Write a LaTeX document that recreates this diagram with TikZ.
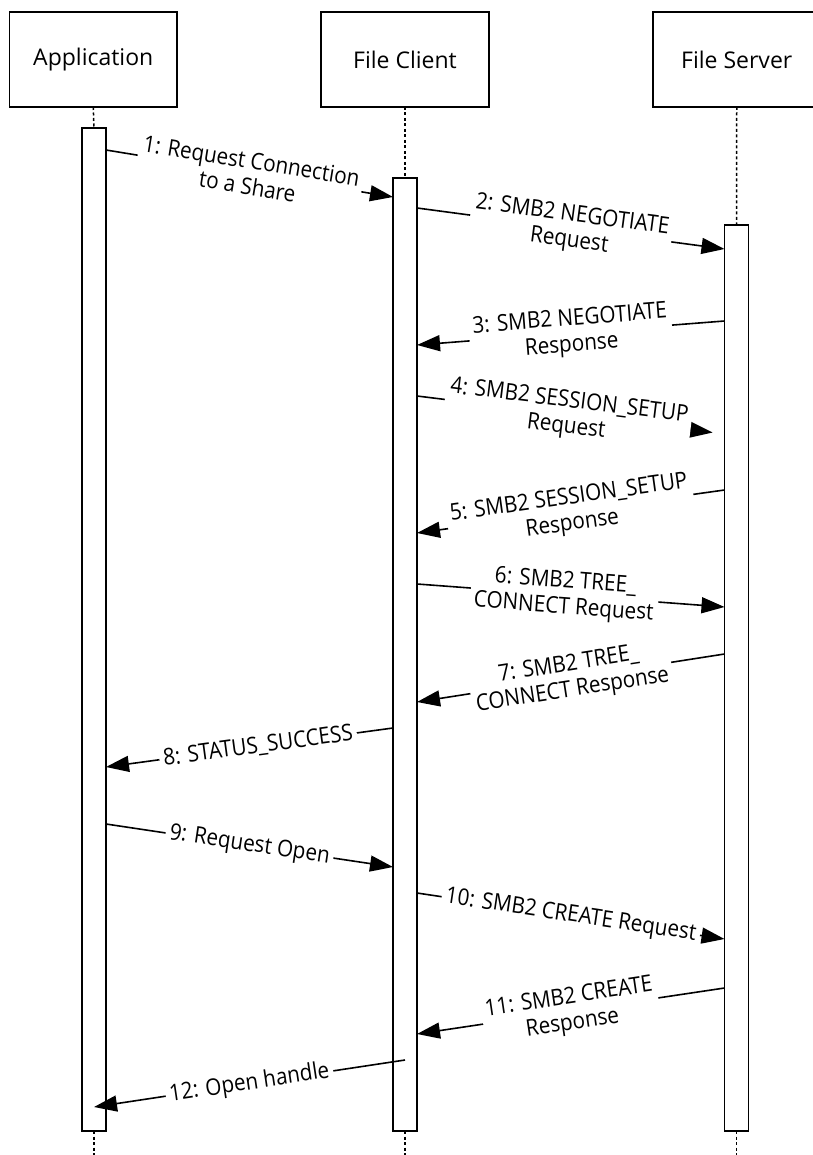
\documentclass[tikz,border=0pt]{standalone}
\usepackage{fontspec}
\setmainfont{Open Sans}
\newfontfamily\msgfont[FakeStretch=0.9]{Open Sans}
\usetikzlibrary{arrows.meta}
\begin{document}
\begin{tikzpicture}[x=1pt,y=-1pt,
  hdr/.style={draw,line width=1.8pt,minimum width=167.5pt,minimum height=95pt,outer sep=0pt,inner sep=0pt,font=\fontsize{23}{27}\selectfont},
  actbar/.style={draw,fill=white,line width=1.8pt,minimum width=24pt,outer sep=0pt,inner sep=0pt},
  life/.style={line width=1.5pt,dash pattern=on 3pt off 2.5pt},
  msg/.style={line width=1.6pt,-{Triangle[length=23pt,width=16pt]}},
  lbl/.style={fill=white,sloped,align=center,inner xsep=4pt,inner ysep=0pt,font=\msgfont\fontsize{23}{26}\selectfont}
]
\useasboundingbox (0,0) rectangle (812,1155);
% headers
\node[hdr] (app) at (93.25,59.5) {Application};
\node[hdr] (client) at (405,59.5) {File Client};
\node[hdr] (server) at (736.75,59.5) {File Server};
% activation bars
\node[actbar,minimum height=1003pt] (appbar) at (94,629.5) {};
\node[actbar,minimum height=953pt] (clientbar) at (405,654.5) {};
\node[actbar,minimum height=906pt] (serverbar) at (736.5,678) {};
% lifelines
\coordinate (append) at (94,1160);
\coordinate (clientend) at (405,1160);
\coordinate (serverend) at (736.5,1160);
\draw[life] (app.south) -- (appbar.north);
\draw[life] (client.south) -- (clientbar.north);
\draw[life] (server.south) -- (serverbar.north);
\draw[life] (appbar.south) -- (append);
\draw[life] (clientbar.south) -- (clientend);
\draw[life] (serverbar.south) -- (serverend);
% messages
\draw[msg] (appbar.east |- 0,150) -- node[lbl] {1: Request Connection\\to a Share} (clientbar.west |- 0,197);
\draw[msg] (clientbar.east |- 0,208) -- node[lbl] {2: SMB2 NEGOTIATE\\Request} (serverbar.west |- 0,249);
\draw[msg] (serverbar.west |- 0,321) -- node[lbl] {3: SMB2 NEGOTIATE\\Response} (clientbar.east |- 0,345);
\draw[msg,shorten >=12pt] (clientbar.east |- 0,396) -- node[lbl,pos=0.49] {4: SMB2 SESSION\_SETUP\\Request} (serverbar.west |- 0,434);
\draw[msg] (serverbar.west |- 0,490) -- node[lbl] {5: SMB2 SESSION\_SETUP\\Response} (clientbar.east |- 0,533);
\draw[msg] (clientbar.east |- 0,584) -- node[lbl,pos=0.48] {6: SMB2 TREE\_\\CONNECT Request} (serverbar.west |- 0,607);
\draw[msg] (serverbar.west |- 0,654) -- node[lbl] {7: SMB2 TREE\_\\CONNECT Response} (clientbar.east |- 0,702);
\draw[msg] (clientbar.west |- 0,728) -- node[lbl,pos=0.47] {8: STATUS\_SUCCESS} (appbar.east |- 0,767);
\draw[msg] (appbar.east |- 0,824) -- node[lbl] {9: Request Open} (clientbar.west |- 0,867);
\draw[msg] (clientbar.east |- 0,893) -- node[lbl] {10: SMB2 CREATE Request} (serverbar.west |- 0,939);
\draw[msg] (serverbar.west |- 0,988) -- node[lbl] {11: SMB2 CREATE\\Response} (clientbar.east |- 0,1034);
\draw[msg] (clientbar.center |- 0,1060) -- node[lbl] {12: Open handle} (appbar.center |- 0,1107);
\end{tikzpicture}
\end{document}
